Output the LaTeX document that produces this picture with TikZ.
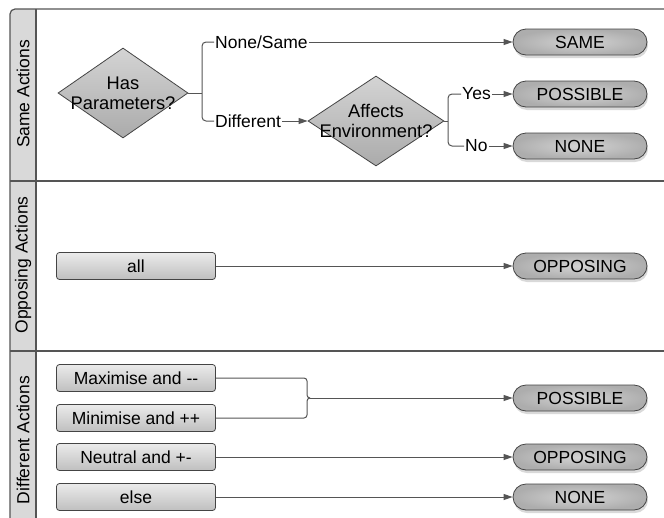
\documentclass[tikz,border=0pt]{standalone}
\usepackage{fontspec}
\setmainfont{Liberation Sans}
\usetikzlibrary{shapes.geometric,shapes.misc,arrows.meta,shadows}
\definecolor{frameline}{HTML}{555555}
\definecolor{connc}{HTML}{555555}
\definecolor{lanefill}{HTML}{D9D9D9}
\definecolor{shapeline}{HTML}{444444}
\begin{document}
\begin{tikzpicture}[x=1pt,y=-1pt,font=\fontsize{17.5}{19}\selectfont,
  frame/.style={draw=frameline,line width=1.2pt},
  conn/.style={draw=connc,line width=1pt},
  arr/.style={conn,-{Triangle[length=9pt,width=6pt]}},
  decision/.style={diamond,draw=shapeline,line width=0.8pt,top color=black!17,bottom color=black!33,
    minimum height=90pt,inner sep=0pt},
  dtext/.style={align=center,inner sep=0pt,font=\fontsize{18.3}{20}\selectfont},
  term/.style={rounded rectangle,draw=shapeline,line width=0.8pt,inner color=black!17,outer color=black!32,
    minimum width=134pt,minimum height=26pt,inner sep=0pt,
    drop shadow={shadow xshift=1pt,shadow yshift=-3pt,opacity=0.3}},
  cond/.style={rectangle,rounded corners=3pt,draw=shapeline,line width=0.8pt,top color=black!8,bottom color=black!25,
    minimum width=159pt,minimum height=27pt,inner sep=0pt},
  lbl/.style={inner sep=1pt},
  lanelbl/.style={rotate=90,inner sep=0pt}]
\useasboundingbox (0,0) rectangle (664,517);
% swimlane frame
\path[fill=lanefill] (10,522) [rounded corners=5pt]-- (10,9) [sharp corners]-- (36,9) -- (36,522) -- cycle;
\draw[frame] (10,522) [rounded corners=5pt]-- (10,9) [sharp corners]-- (666,9);
\draw[frame] (36,9) -- (36,522);
\draw[frame] (10,181) -- (666,181);
\draw[frame] (10,351) -- (666,351);
\node[lanelbl] (l1) at (23,94) {Same Actions};
\node[lanelbl] (l2) at (23,265) {Opposing Actions};
\node[lanelbl] (l3) at (23,440) {Different Actions};
% lane 1
\node[decision,minimum width=130pt,label={[dtext]center:Has\\Parameters?}] (p1) at (123,93) {};
\coordinate (j1) at (202,93);
\node[lbl,anchor=west] (ns) at (214,42) {None/Same};
\node[lbl,anchor=west] (df) at (214,121) {Different};
\node[decision,minimum width=136pt,label={[dtext]center:Affects\\Environment?}] (p2) at (376,121) {};
\coordinate (j2) at (448,121);
\node[lbl,anchor=west] (yes) at (461,94) {Yes};
\node[lbl,anchor=west] (no) at (464,146) {No};
\node[term] (same) at (580,42) {SAME};
\node[term] (poss1) at (580,94) {POSSIBLE};
\node[term] (none1) at (580,146) {NONE};
\draw[conn] (p1.east) -- (j1);
\draw[conn,rounded corners=4pt] (ns.west) -| (j1) |- (df.west);
\draw[arr] (ns.east) -- (same.west);
\draw[arr] (df.east) -- (p2.west);
\draw[conn] (p2.east) -- (j2);
\draw[conn,rounded corners=4pt] (yes.west) -| (j2) |- (no.west);
\draw[arr] (yes.east) -- (poss1.west);
\draw[arr] (no.east) -- (none1.west);
% lane 2
\node[cond] (all) at (136,266) {all};
\node[term] (opp1) at (580,266) {OPPOSING};
\draw[arr] (all.east) -- (opp1.west);
% lane 3
\node[cond] (max) at (136,378) {Maximise and -{}-};
\node[cond] (min) at (136,418) {Minimise and ++};
\node[cond] (neu) at (136,457) {Neutral and +-};
\node[cond] (els) at (136,497) {else};
\coordinate (j3) at (310,398);
\node[term] (poss2) at (580,398) {POSSIBLE};
\node[term] (opp2) at (580,457) {OPPOSING};
\node[term] (none2) at (580,497) {NONE};
\draw[conn] (max.east) -- (304,378) to[out=0,in=90] (307,381) -- (307,395) to[out=270,in=180] (j3);
\draw[conn] (min.east) -- (304,418) to[out=0,in=270] (307,415) -- (307,401) to[out=90,in=180] (j3);
\draw[arr] (j3) -- (poss2.west);
\draw[arr] (neu.east) -- (opp2.west);
\draw[arr] (els.east) -- (none2.west);
\end{tikzpicture}
\end{document}
